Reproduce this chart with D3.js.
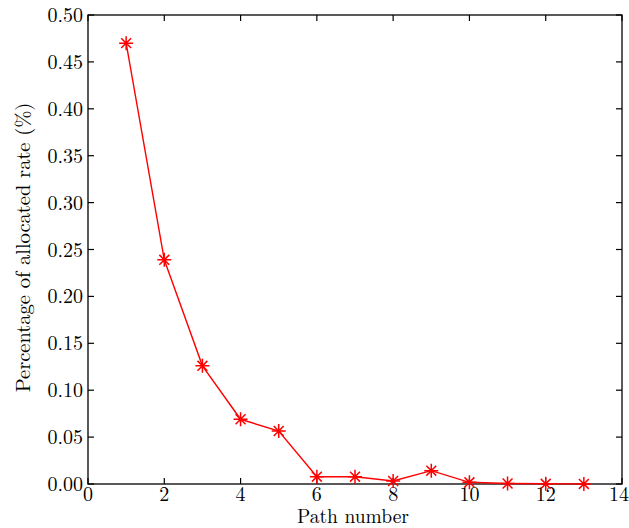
<!DOCTYPE html>
<html><head><meta charset="utf-8">
<script src="https://cdn.jsdelivr.net/npm/d3@7"></script>
<style>body{margin:0;background:#fff}text{font-family:"Latin Modern Roman","CMU Serif","Computer Modern","DejaVu Serif",serif;fill:#000}</style>
</head><body><svg id="c" width="629" height="528"></svg>
<script>
const pathNumbers = [1,2,3,4,5,6,7,8,9,10,11,12,13];
const allocatedRate = [0.470,0.239,0.126,0.069,0.0565,0.0078,0.0078,0.0032,0.0142,0.0018,0.0005,0.0002,0.0001];
const xTicks = [0,2,4,6,8,10,12,14];
const yTicks = [0,0.05,0.10,0.15,0.20,0.25,0.30,0.35,0.40,0.45,0.50];

const svg = d3.select("#c");
const L=88,R=622,T=15,B=484;
const x = d3.scaleLinear().domain([0,14]).range([L,R]);
const y = d3.scaleLinear().domain([0,0.5]).range([B,T]);
const fs = 20, tl = 6;

const g = svg.append("g");
g.append("rect").attr("x",L).attr("y",T).attr("width",R-L).attr("height",B-T)
 .attr("fill","none").attr("stroke","#000").attr("stroke-width",1.3);
xTicks.forEach(v=>{
  g.append("line").attr("x1",x(v)).attr("x2",x(v)).attr("y1",B).attr("y2",B-tl).attr("stroke","#000").attr("stroke-width",1.2);
  g.append("line").attr("x1",x(v)).attr("x2",x(v)).attr("y1",T).attr("y2",T+tl).attr("stroke","#000").attr("stroke-width",1.2);
  g.append("text").attr("x",Math.min(x(v),619)).attr("y",501).attr("text-anchor","middle").attr("font-size",fs).text(v);
});
yTicks.forEach(v=>{
  g.append("line").attr("x1",L).attr("x2",L+tl).attr("y1",y(v)).attr("y2",y(v)).attr("stroke","#000").attr("stroke-width",1.2);
  g.append("line").attr("x1",R).attr("x2",R-tl).attr("y1",y(v)).attr("y2",y(v)).attr("stroke","#000").attr("stroke-width",1.2);
  g.append("text").attr("x",L-5).attr("y",y(v)+7).attr("text-anchor","end").attr("font-size",fs).text(v.toFixed(2));
});
g.append("text").attr("x",353).attr("y",522.5).attr("text-anchor","middle").attr("font-size",19.5).text("Path number");
g.append("text").attr("transform",`translate(30,247.5) rotate(-90)`).attr("text-anchor","middle").attr("font-size",fs+0.5).text("Percentage of allocated rate (%)");

const data = pathNumbers.map((p,i)=>({p,v:allocatedRate[i]}));
const line = d3.line().x(d=>x(d.p)).y(d=>y(d.v));
g.append("path").datum(data).attr("d",line).attr("fill","none").attr("stroke","#ff0000").attr("stroke-width",1.4);
const s=7, d2=s*0.707;
const m = g.selectAll("g.m").data(data).enter().append("g").attr("transform",d=>`translate(${x(d.p)},${y(d.v)})`);
m.append("path").attr("d",`M${-s},0L${s},0M0,${-s}L0,${s}M${-d2},${-d2}L${d2},${d2}M${-d2},${d2}L${d2},${-d2}`)
 .attr("stroke","#ff0000").attr("stroke-width",1.5).attr("fill","none");
</script></body></html>
